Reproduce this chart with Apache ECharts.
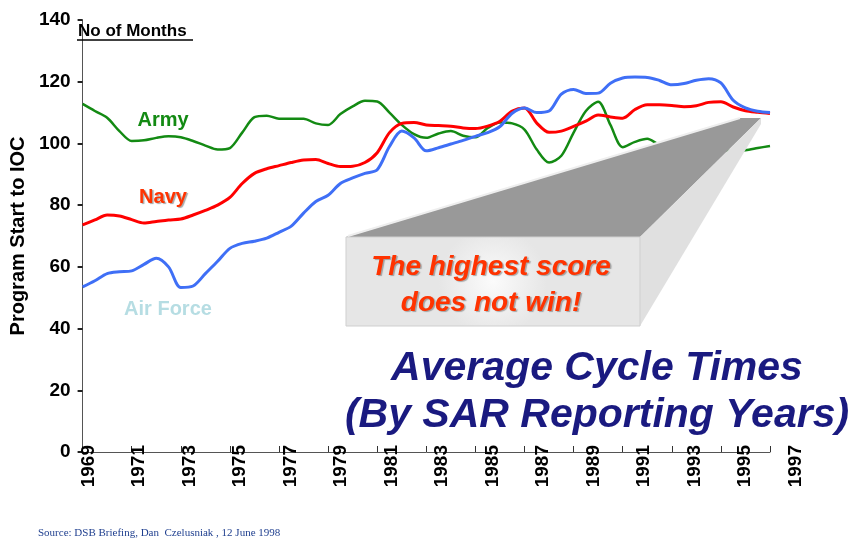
<!DOCTYPE html>
<html>
<head>
<meta charset="utf-8">
<title>Average Cycle Times</title>
<script src="https://cdn.jsdelivr.net/npm/echarts@6/dist/echarts.min.js"></script>
<style>
html, body { margin: 0; padding: 0; background: #fff; }
#chart { width: 856px; height: 540px; }
</style>
</head>
<body>
<div id="chart"></div>
<script>
// SAR reporting year (half-year steps) -> months from program start to IOC
const years = [1968, 1968.5, 1969, 1969.5, 1970, 1970.5, 1971, 1971.5, 1972, 1972.5,
  1973, 1973.5, 1974, 1974.5, 1975, 1975.5, 1976, 1976.5, 1977, 1977.5,
  1978, 1978.5, 1979, 1979.5, 1980, 1980.5, 1981, 1981.5, 1982, 1982.5,
  1983, 1983.5, 1984, 1984.5, 1985, 1985.5, 1986, 1986.5, 1987, 1987.5,
  1988, 1988.5, 1989, 1989.5, 1990, 1990.5, 1991, 1991.5, 1992, 1992.5,
  1993, 1993.5, 1994, 1994.5, 1995, 1995.5, 1996]

const army = [112.8, 110.5, 108.3, 104, 100.8, 101, 101.8, 102.3, 102, 100.8,
  99.3, 98, 98.5, 103.5, 108.5, 109, 108, 108, 108, 106.5,
  106, 109.5, 112, 113.8, 113.6, 110, 106, 103, 101.8, 103.2,
  104, 102.5, 102, 105, 106.8, 106.5, 104.5, 98, 93.8, 96,
  103.5, 110.5, 113.5, 106, 98.8, 100.5, 101.5, 99.5, 98.8, 98.5,
  98.2, 98, 97.8, 97.6, 97.8, 98.5, 99.2]

const navy = [73.6, 75.2, 76.8, 76.5, 75.3, 74.2, 74.7, 75.2, 75.5, 76.8,
  78.3, 80, 82.5, 87, 90.3, 91.8, 92.8, 93.8, 94.6, 94.8,
  93.5, 92.5, 92.6, 93.8, 97, 103.5, 106.5, 106.8, 106, 105.8,
  105.6, 105, 104.8, 105.6, 107.2, 110.5, 111.5, 106.6, 103.6, 104,
  105.5, 107.2, 109.2, 108.6, 108.2, 111, 112.5, 112.5, 112.3, 111.9,
  112.2, 113.3, 113.5, 111.8, 110.6, 110.1, 109.7]

const airForce = [53.5, 55.5, 57.8, 58.4, 58.7, 60.8, 62.8, 60, 53.3, 53.8,
  57.8, 61.8, 66, 67.6, 68.3, 69.3, 71.2, 73.2, 77.4, 81.2,
  83.2, 87, 88.8, 90.3, 91.5, 99, 104, 101.8, 97.6, 98.6,
  99.8, 101, 102.3, 103.5, 105.5, 109.8, 111.5, 110, 110.5, 116,
  117.5, 116.2, 116.3, 119.5, 121.2, 121.5, 121.4, 120.4, 119, 119.4,
  120.5, 121, 119.6, 114, 111.5, 110.4, 110]

const yearLabels = ['1969', '1971', '1973', '1975', '1977', '1979', '1981', '1983',
  '1985', '1987', '1989', '1991', '1993', '1995', '1997']

const FONT = 'Liberation Sans, Arial, sans-serif'

function pairs(values){
  return years.map((y, i) => [y, values[i]])
}

function lineSeries(name, values, color, width){
  return {
    name: name,
    type: 'line',
    xAxisIndex: 0,
    yAxisIndex: 0,
    data: pairs(values),
    smooth: 0.3,
    showSymbol: false,
    z: 2,
    lineStyle: { color: color, width: width }
  }
}

const chart = echarts.init(document.getElementById('chart'))

const option = {
  backgroundColor: '#fff',
  animation: false,
  title: {
    text: 'Average Cycle Times\n(By SAR Reporting Years)',
    left: 592,
    top: 340,
    textAlign: 'center',
    textStyle: {
      fontFamily: FONT,
      fontSize: 41,
      fontStyle: 'italic',
      fontWeight: 'bold',
      color: '#1a1a80',
      lineHeight: 47
    }
  },
  grid: [
    { left: 58, right: 86, top: 20, bottom: 88 },
    { left: 63, right: 35, top: 20, bottom: 88 }
  ],
  xAxis: [
    {
      type: 'value',
      gridIndex: 0,
      min: 1968,
      max: 1996,
      interval: 2,
      axisLine: { show: true, lineStyle: { color: '#555', width: 1 } },
      axisTick: { show: true, length: 6, inside: true, lineStyle: { color: '#333' } },
      axisLabel: { show: false },
      splitLine: { show: false }
    },
    {
      type: 'category',
      gridIndex: 1,
      data: yearLabels,
      boundaryGap: true,
      axisLine: { show: false },
      axisTick: { show: false },
      axisLabel: {
        rotate: 90,
        margin: -7,
        fontFamily: FONT,
        fontSize: 19,
        fontWeight: 'bold',
        color: '#000'
      }
    }
  ],
  yAxis: [
    {
      type: 'value',
      gridIndex: 0,
      min: 0,
      max: 140,
      interval: 20,
      name: 'Program Start to IOC',
      nameLocation: 'middle',
      nameGap: 30,
      nameTextStyle: { fontFamily: FONT, fontSize: 20, fontWeight: 'bold', color: '#000' },
      axisLine: { show: true, lineStyle: { color: '#555', width: 1 } },
      axisTick: { show: true, length: 5, lineStyle: { color: '#222', width: 2 } },
      axisLabel: { margin: 12, fontFamily: FONT, fontSize: 19, fontWeight: 'bold', color: '#000' },
      splitLine: { show: false }
    },
    {
      type: 'value',
      gridIndex: 1,
      min: 0,
      max: 140,
      show: false
    }
  ],
  series: [
    lineSeries('Army', army, '#138a13', 2.5),
    lineSeries('Navy', navy, '#ff0000', 3),
    lineSeries('Air Force', airForce, '#3f6ff6', 3)
  ],
  graphic: [
    {
      type: 'text', x: 78, y: 31, z: 10,
      style: { text: 'No of Months', fontFamily: FONT, fontSize: 17, fontWeight: 'bold', fill: '#000', verticalAlign: 'middle' }
    },
    {
      type: 'line', z: 10,
      shape: { x1: 77, y1: 40, x2: 193, y2: 40 },
      style: { stroke: '#000', lineWidth: 1.5 }
    },
    {
      type: 'text', x: 163, y: 120, z: 10,
      style: { text: 'Army', fontFamily: FONT, fontSize: 20, fontWeight: 'bold', fill: '#138a13', align: 'center', verticalAlign: 'middle' }
    },
    {
      type: 'text', x: 163, y: 197, z: 10,
      style: {
        text: 'Navy', fontFamily: FONT, fontSize: 20, fontWeight: 'bold', fill: '#ff3300', align: 'center', verticalAlign: 'middle',
        textShadowColor: 'rgba(0,0,0,0.35)', textShadowOffsetX: 1.5, textShadowOffsetY: 1.5, textShadowBlur: 1
      }
    },
    {
      type: 'text', x: 168, y: 309, z: 10,
      style: { text: 'Air Force', fontFamily: FONT, fontSize: 20, fontWeight: 'bold', fill: '#b6dde3', align: 'center', verticalAlign: 'middle' }
    },
    // 3D callout box
    {
      type: 'polygon', z: 20,
      shape: { points: [[346, 237], [640, 237], [761, 118], [740, 118]] },
      style: { fill: '#999999' }
    },
    {
      type: 'polyline', z: 21,
      shape: { points: [[348, 236], [740, 118]] },
      style: { stroke: '#eeeeee', lineWidth: 2 }
    },
    {
      type: 'polygon', z: 20,
      shape: { points: [[640, 237], [761, 118], [761, 124], [640, 326]] },
      style: { fill: '#e0e0e0' }
    },
    {
      type: 'rect', z: 20,
      shape: { x: 346, y: 237, width: 294, height: 89 },
      style: {
        fill: {
          type: 'radial', x: 0.5, y: 0.5, r: 0.6,
          colorStops: [{ offset: 0, color: '#fbfbfb' }, { offset: 1, color: '#e6e6e6' }]
        },
        stroke: '#cfcfcf', lineWidth: 1
      }
    },
    {
      type: 'text', x: 491, y: 267, z: 22,
      style: {
        text: 'The highest score', fontFamily: FONT, fontSize: 28, fontWeight: 'bold', fontStyle: 'italic',
        fill: '#ff3300', align: 'center', verticalAlign: 'middle',
        textShadowColor: 'rgba(0,0,0,0.3)', textShadowOffsetX: 1.5, textShadowOffsetY: 1.5, textShadowBlur: 1
      }
    },
    {
      type: 'text', x: 491, y: 303, z: 22,
      style: {
        text: 'does not win!', fontFamily: FONT, fontSize: 28, fontWeight: 'bold', fontStyle: 'italic',
        fill: '#ff3300', align: 'center', verticalAlign: 'middle',
        textShadowColor: 'rgba(0,0,0,0.3)', textShadowOffsetX: 1.5, textShadowOffsetY: 1.5, textShadowBlur: 1
      }
    },
    {
      type: 'text', x: 38, y: 533, z: 10,
      style: { text: 'Source: DSB Briefing, Dan  Czelusniak , 12 June 1998', fontFamily: 'Liberation Serif, Times New Roman, serif', fontSize: 11, fill: '#1f3f8f', verticalAlign: 'middle' }
    }
  ]
}

chart.setOption(option)
</script>
</body>
</html>
